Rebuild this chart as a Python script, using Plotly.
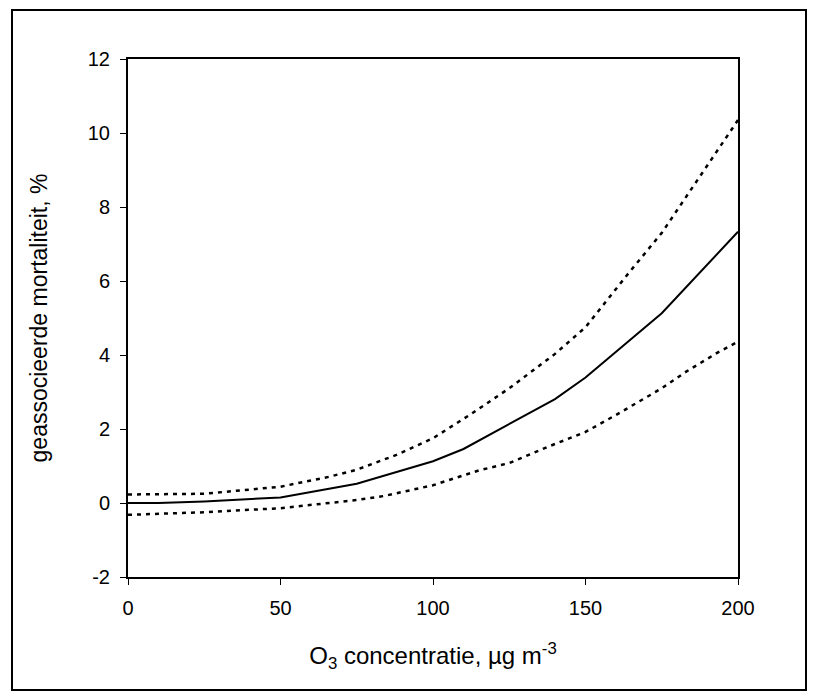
import plotly.graph_objects as go

# Central estimate (solid)
x_mid = [0, 10, 25, 50, 75, 100, 110, 140, 150, 175, 200]
y_mid = [0.0, 0.0, 0.04, 0.15, 0.52, 1.13, 1.46, 2.81, 3.39, 5.13, 7.33]

# Upper bound (dotted)
x_up = [0, 25, 50, 66, 75, 88, 100, 112, 125, 140, 150, 164, 175, 189, 200]
y_up = [0.23, 0.25, 0.44, 0.71, 0.9, 1.30, 1.75, 2.38, 3.1, 4.03, 4.75, 6.2, 7.3, 9.0, 10.35]

# Lower bound (dotted)
x_lo = [0, 25, 50, 75, 84, 100, 115, 125, 138, 150, 160, 175, 183, 193, 200]
y_lo = [-0.32, -0.25, -0.14, 0.08, 0.19, 0.48, 0.88, 1.08, 1.53, 1.92, 2.38, 3.1, 3.55, 4.05, 4.36]

x_ticks = [0, 50, 100, 150, 200]
x_ticktext = ["0", "50", "100", "150", "200"]
y_ticks = [-2, 0, 2, 4, 6, 8, 10, 12]
y_ticktext = ["-2", "0", "2", "4", "6", "8", "10", "12"]

FONT = "Arial, Liberation Sans, sans-serif"

fig = go.Figure()
fig.add_trace(go.Scatter(x=x_up, y=y_up, mode="lines",
                         line=dict(color="black", width=2.5, dash="4px,5px"),
                         showlegend=False))
fig.add_trace(go.Scatter(x=x_lo, y=y_lo, mode="lines",
                         line=dict(color="black", width=2.5, dash="4px,5px"),
                         showlegend=False))
fig.add_trace(go.Scatter(x=x_mid, y=y_mid, mode="lines",
                         line=dict(color="black", width=2),
                         showlegend=False))

W, H = 816, 700
L, R, T, B = 128, 78, 59, 123
pw, ph = W - L - R, H - T - B


def px(x):
    return (x - L) / pw


def py(y):
    return (H - B - y) / ph


fig.update_layout(
    width=W, height=H,
    margin=dict(l=L, r=R, t=T, b=B),
    paper_bgcolor="white", plot_bgcolor="white",
    font=dict(family=FONT, size=20, color="black"),
    xaxis=dict(range=[0, 200], tickvals=x_ticks, ticktext=x_ticktext,
               ticks="outside", ticklen=6, ticklabelstandoff=6,
               tickcolor="black", showline=True, linecolor="black", linewidth=2,
               mirror=True, showgrid=False, zeroline=False,
               tickfont=dict(size=20),
               title=dict(text="O<sub>3</sub> concentratie, µg m<sup>-3</sup>",
                          font=dict(size=24), standoff=29)),
    yaxis=dict(range=[-2, 12], tickvals=y_ticks, ticktext=y_ticktext,
               ticks="outside", ticklen=6, ticklabelstandoff=6,
               tickcolor="black", showline=True, linecolor="black", linewidth=2,
               mirror=True, showgrid=False, zeroline=False,
               tickfont=dict(size=20),
               title=dict(text="geassocieerde mortaliteit, %",
                          font=dict(size=23), standoff=34)),
    shapes=[dict(type="rect", xref="paper", yref="paper",
                 x0=px(12), x1=px(806), y0=py(690), y1=py(10),
                 line=dict(color="black", width=2))],
)

fig.write_html("out.html")
